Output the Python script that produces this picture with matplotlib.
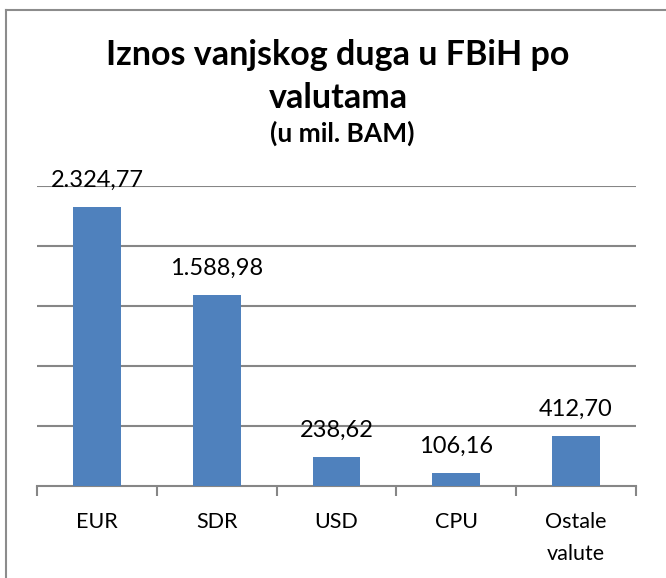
import matplotlib
matplotlib.use("Agg")
import matplotlib.pyplot as plt
from matplotlib.lines import Line2D

categories = ["EUR", "SDR", "USD", "CPU", "Ostale\nvalute"]
values = [2324.77, 1588.98, 238.62, 106.16, 412.70]
value_labels = ["2.324,77", "1.588,98", "238,62", "106,16", "412,70"]
title_line1 = "Iznos vanjskog duga u FBiH po"
title_line2 = "valutama"
subtitle = "(u mil. BAM)"

plt.rcParams['font.family'] = ['Lato', 'DejaVu Sans']

W, H = 666, 578
fig = plt.figure(figsize=(W / 100, H / 100), dpi=100)
fig.patch.set_facecolor("white")

# outer frame (chart area border, partially cut off)
fig.add_artist(Line2D([6 / W, 6 / W], [0, 1 - 10 / H], color="#8c8c8c", lw=1.5))
fig.add_artist(Line2D([6 / W, 1], [1 - 10 / H, 1 - 10 / H], color="#8c8c8c", lw=1.5))

ax_left, ax_right = 37 / W, 636 / W
ax_bottom, ax_top = 1 - 486 / H, 1 - 186 / H
ax = fig.add_axes([ax_left, ax_bottom, ax_right - ax_left, ax_top - ax_bottom])

x = list(range(len(categories)))
ax.bar(x, values, width=0.4, color="#4f81bd", zorder=3)
ax.set_xlim(-0.5, len(categories) - 0.5)
ax.set_ylim(0, 2500)

for s in ["top", "right", "left"]:
    ax.spines[s].set_visible(False)
ax.spines["bottom"].set_color("#868686")
ax.spines["bottom"].set_linewidth(1.5)
ax.set_yticks([500, 1000, 1500, 2000, 2500])
ax.yaxis.grid(True, color="#868686", lw=1.5, zorder=0)
ax.tick_params(axis="y", left=False, labelleft=False)

ax.set_xticks([i - 0.5 for i in range(len(categories) + 1)], minor=False)
ax.set_xticklabels([])
ax.tick_params(axis="x", which="major", length=7, width=1.5, color="#868686", direction="out")
ax.set_xticks(x, minor=True)
ax.set_xticklabels(categories, minor=True, fontsize=15.5, linespacing=1.75)
ax.tick_params(axis="x", which="minor", length=0, pad=19)
for lab in ax.get_xticklabels(minor=True):
    lab.set_verticalalignment("top")

for i, (v, lab) in enumerate(zip(values, value_labels)):
    ax.annotate(lab, (i, v), xytext=(0, 14.5), textcoords="offset points",
                ha="center", va="baseline", fontsize=17, color="black", zorder=4)

fig.text(338 / W, 1 - 65 / H, title_line1, ha="center", va="baseline", fontsize=24.5,
         fontweight="bold")
fig.text(338 / W, 1 - 108 / H, title_line2, ha="center", va="baseline", fontsize=24.5,
         fontweight="bold")
fig.text(342 / W, 1 - 142 / H, subtitle, ha="center", va="baseline", fontsize=19,
         fontweight="bold")

fig.savefig("out.png", dpi=100)
